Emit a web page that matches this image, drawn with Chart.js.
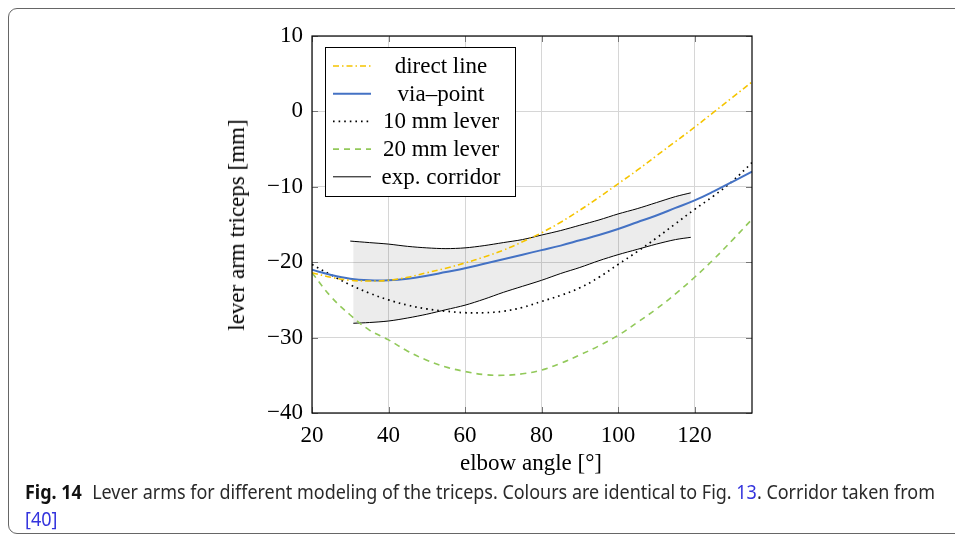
<!DOCTYPE html>
<html>
<head>
<meta charset="utf-8">
<script src="https://cdn.jsdelivr.net/npm/chart.js@4.4.1/dist/chart.umd.min.js"></script>
<style>
  html, body { margin: 0; padding: 0; background: #fff; }
  #wrap { position: relative; width: 955px; height: 540px; overflow: hidden; background: #fff; }
  #frame { position: absolute; left: 8px; top: 8px; width: 1000px; height: 526px;
           border: 1.5px solid #666; border-radius: 9px; box-sizing: border-box; }
  #c { position: absolute; left: 0; top: 0; }
  .ttl { position: absolute; font-family: 'Liberation Serif', serif; font-size: 23px; color: #000; white-space: nowrap; }
  #ytitle { left: 237px; top: 225px; transform: translate(-50%, -50%) rotate(-90deg); }
  #xtitle { left: 531px; top: 463px; transform: translate(-50%, -50%); }
  #cap { position: absolute; left: 25px; top: 479px; font-family: 'Noto Sans', sans-serif; font-size: 19px;
         line-height: 27px; color: #2a2a2a; white-space: nowrap; }
  #cap .l1 { display: inline-block; transform-origin: 0 0; }
  #cap b { color: #111; margin-right: 6px; }
  #cap .lnk { color: #3333dd; }
</style>
</head>
<body>
<div id="wrap">
  <div id="frame"></div>
  <canvas id="c" width="955" height="540"></canvas>
  <div class="ttl" id="ytitle">lever arm triceps [mm]</div>
  <div class="ttl" id="xtitle">elbow angle [°]</div>
  <div id="cap"><span class="l1" id="l1"><b>Fig. 14</b> Lever arms for different modeling of the triceps. Colours are identical to Fig. <span class="lnk">13</span>. Corridor taken from</span><br><span class="lnk" id="l2" style="display:inline-block;transform-origin:0 0">[40]</span></div>
</div>
<script>
// ---- data ----
const angles = [20,25,30,35,40,45,50,55,60,65,70,75,80,85,90,95,100,105,110,115,120,125,130,135];
const directLine = [-21.4,-22.0,-22.4,-22.5,-22.4,-22.0,-21.4,-20.8,-20.1,-19.3,-18.4,-17.3,-16.1,-14.7,-13.1,-11.4,-9.6,-7.8,-5.9,-4.0,-2.1,-0.1,1.9,3.9];
const viaPoint = [-21.0,-21.7,-22.2,-22.4,-22.4,-22.2,-21.8,-21.3,-20.8,-20.2,-19.6,-19.0,-18.4,-17.8,-17.1,-16.4,-15.6,-14.7,-13.8,-12.8,-11.8,-10.6,-9.3,-8.0];
const lever10 = [-20.3,-21.7,-23.0,-24.1,-25.0,-25.7,-26.2,-26.5,-26.7,-26.7,-26.5,-26.0,-25.2,-24.4,-23.4,-22.0,-20.3,-18.6,-16.8,-14.9,-13.0,-11.2,-9.2,-6.8];
const lever20 = [-21.4,-24.6,-27.0,-29.0,-30.3,-31.8,-33.0,-33.9,-34.5,-34.9,-35.0,-34.8,-34.3,-33.4,-32.3,-31.1,-29.7,-28.0,-26.2,-24.2,-22.0,-19.6,-17.0,-14.3];
const corrUpperX = [30,35,40,45,50,55,60,65,70,75,80,85,90,95,100,105,110,115,119];
const corrUpper = [-17.2,-17.4,-17.6,-17.9,-18.1,-18.2,-18.1,-17.8,-17.4,-17.0,-16.4,-15.8,-15.1,-14.4,-13.6,-12.9,-12.1,-11.3,-10.8];
const corrLowerX = [30.8,35,40,45,50,55,60,65,70,75,80,85,90,95,100,105,110,115,119];
const corrLower = [-28.1,-28.0,-27.8,-27.4,-26.9,-26.3,-25.7,-24.9,-24.0,-23.2,-22.4,-21.5,-20.7,-19.8,-19.0,-18.3,-17.6,-17.0,-16.7];
const xTicks = [20,40,60,80,100,120];
const yTicks = [-40,-30,-20,-10,0,10];
const legendLabels = ['direct line','via\u2013point','10 mm lever','20 mm lever','exp. corridor'];

const pts = (xs, ys) => xs.map((x, i) => ({x: x, y: ys[i]}));

// fit caption line width
(function(){
  const l1 = document.getElementById('l1');
  const w = l1.getBoundingClientRect().width;
  const k = 910 / w;
  l1.style.transform = 'scaleX(' + k + ')';
  document.getElementById('l2').style.transform = 'scaleX(' + k + ')';
})();

const FONT = "'Liberation Serif', serif";

const legendPlugin = {
  id: 'boxLegend',
  afterDraw(chart) {
    const ctx = chart.ctx, a = chart.chartArea;
    const bx = a.left + 13, by = a.top + 11, bw = 190, bh = 149;
    ctx.save();
    ctx.fillStyle = '#fff';
    ctx.fillRect(bx, by, bw, bh);
    ctx.strokeStyle = '#000';
    ctx.lineWidth = 1;
    ctx.strokeRect(bx + 0.5, by + 0.5, bw, bh);
    const idx = [0, 1, 2, 3, 4];
    ctx.font = '23px ' + FONT;
    ctx.textAlign = 'center';
    ctx.textBaseline = 'middle';
    idx.forEach((di, k) => {
      const ds = chart.data.datasets[di];
      const y = by + 19 + k * 27.7;
      ctx.beginPath();
      ctx.setLineDash(ds.borderDash || []);
      ctx.strokeStyle = ds.borderColor;
      ctx.lineWidth = ds.borderWidth;
      ctx.moveTo(bx + 8, y);
      ctx.lineTo(bx + 46, y);
      ctx.stroke();
      ctx.setLineDash([]);
      ctx.fillStyle = '#000';
      ctx.fillText(legendLabels[k], bx + 116, y + 1);
    });
    ctx.restore();
  }
};

const framePlugin = {
  id: 'frameTicks',
  afterDatasetsDraw(chart) {
    const ctx = chart.ctx, a = chart.chartArea;
    const xs = chart.scales.x, ys = chart.scales.y;
    ctx.save();
    ctx.strokeStyle = '#777';
    ctx.lineWidth = 1;
    ctx.beginPath();
    xTicks.forEach(v => {
      const px = Math.round(xs.getPixelForValue(v)) + 0.5;
      ctx.moveTo(px, a.bottom); ctx.lineTo(px, a.bottom - 6);
      ctx.moveTo(px, a.top); ctx.lineTo(px, a.top + 6);
    });
    yTicks.forEach(v => {
      const py = Math.round(ys.getPixelForValue(v)) + 0.5;
      ctx.moveTo(a.left, py); ctx.lineTo(a.left + 6, py);
      ctx.moveTo(a.right, py); ctx.lineTo(a.right - 6, py);
    });
    ctx.stroke();
    ctx.strokeStyle = '#000';
    ctx.lineWidth = 1.2;
    ctx.strokeRect(a.left, a.top, a.right - a.left, a.bottom - a.top);
    ctx.restore();
  }
};

new Chart(document.getElementById('c'), {
  type: 'line',
  data: {
    datasets: [
      { label: 'direct line', data: pts(angles, directLine), borderColor: '#f5c400', borderWidth: 1.6,
        borderDash: [6, 3, 1.5, 3], pointRadius: 0, tension: 0.4, fill: false },
      { label: 'via-point', data: pts(angles, viaPoint), borderColor: '#4472c4', borderWidth: 2,
        pointRadius: 0, tension: 0.4, fill: false },
      { label: '10 mm lever', data: pts(angles, lever10), borderColor: '#000', borderWidth: 1.7,
        borderDash: [1.6, 4], pointRadius: 0, tension: 0.4, fill: false },
      { label: '20 mm lever', data: pts(angles, lever20), borderColor: '#92c95a', borderWidth: 1.6,
        borderDash: [6, 5], pointRadius: 0, tension: 0.4, fill: false },
      { label: 'exp. corridor', data: pts(corrUpperX, corrUpper), borderColor: '#000', borderWidth: 1,
        pointRadius: 0, tension: 0.3, fill: '+1', backgroundColor: 'rgba(0,0,0,0.075)' },
      { label: 'corridor lower', data: pts(corrLowerX, corrLower), borderColor: '#000', borderWidth: 1,
        pointRadius: 0, tension: 0.3, fill: false }
    ]
  },
  options: {
    responsive: false,
    animation: false,
    devicePixelRatio: 1,
    layout: { padding: { top: 36, right: 203, left: 0, bottom: 0 } },
    plugins: {
      legend: { display: false },
      tooltip: { enabled: false },
      filler: { drawTime: 'beforeDatasetsDraw' }
    },
    scales: {
      x: {
        type: 'linear', min: 20, max: 135,
        afterFit(s) { s.height = 127; },
        afterBuildTicks(s) { s.ticks = xTicks.map(v => ({ value: v })); },
        grid: { color: '#d6d6d6', lineWidth: 1, drawTicks: false },
        border: { display: false },
        ticks: { color: '#000', font: { family: FONT, size: 23 }, padding: 9, maxRotation: 0,
                 callback: v => String(v) }
      },
      y: {
        type: 'linear', min: -40, max: 10,
        afterFit(s) { s.width = 312; },
        afterBuildTicks(s) { s.ticks = yTicks.map(v => ({ value: v })); },
        grid: { color: '#d6d6d6', lineWidth: 1, drawTicks: false },
        border: { display: false },
        ticks: { color: '#000', font: { family: FONT, size: 23 }, padding: 9,
                 callback: v => String(v).replace('-', '\u2212') }
      }
    }
  },
  plugins: [legendPlugin, framePlugin]
});
</script>
</body>
</html>
